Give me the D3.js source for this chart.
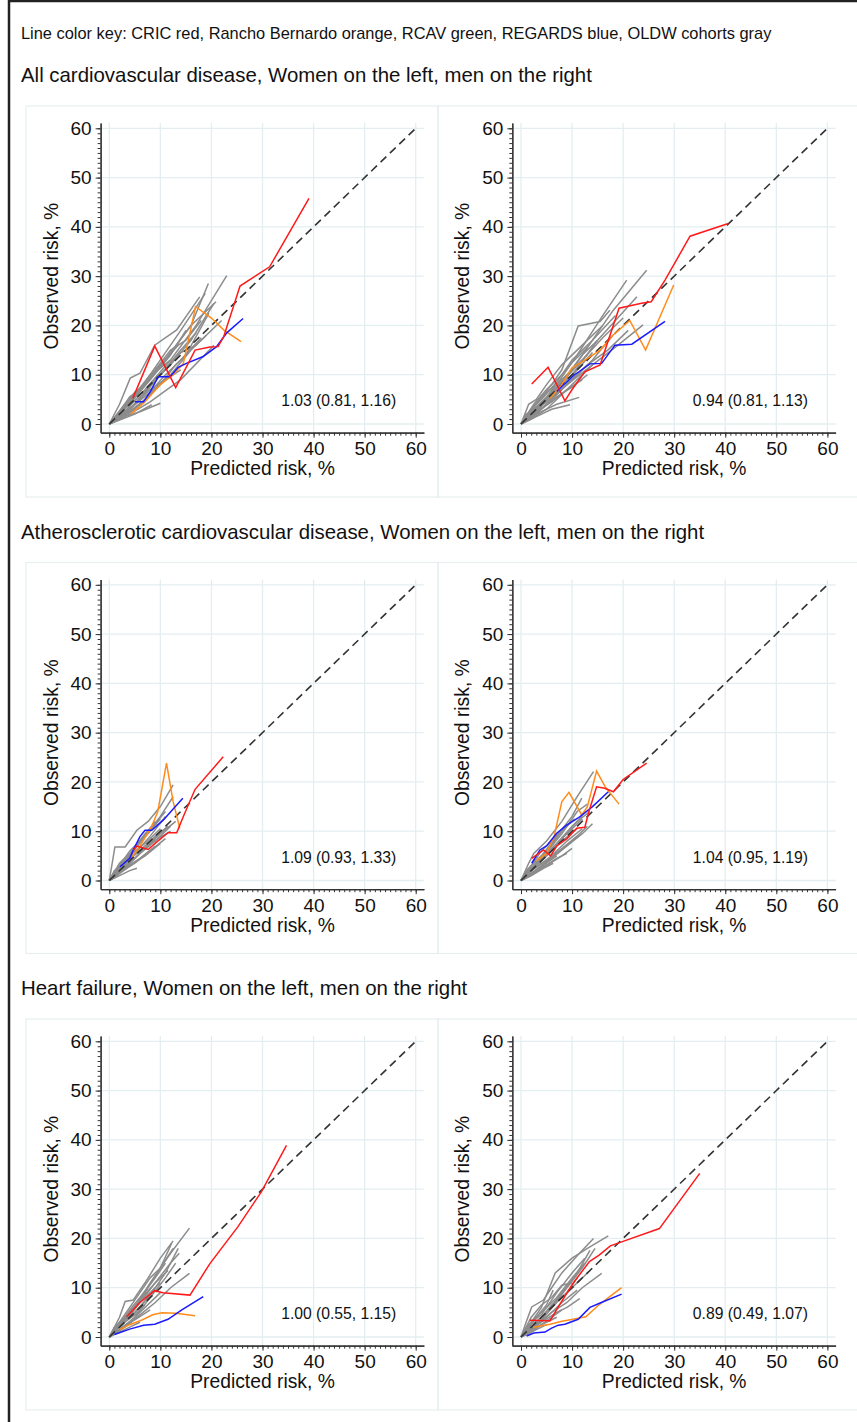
<!DOCTYPE html>
<html>
<head>
<meta charset="utf-8">
<script src="https://cdn.jsdelivr.net/npm/d3@7"></script>
<style>
body { margin: 0; background: #fff; }
svg text { font-family: "Liberation Sans", Arial, sans-serif; fill: #111; }
</style>
</head>
<body>
<script>
//calibration plots, observed vs predicted risk by cohort

//text
var keyText = "Line color key: CRIC red, Rancho Bernardo orange, RCAV green, REGARDS blue, OLDW cohorts gray";
var rowTitles = [
    "All cardiovascular disease, Women on the left, men on the right",
    "Atherosclerotic cardiovascular disease, Women on the left, men on the right",
    "Heart failure, Women on the left, men on the right"
];
var ratioLabels = ["1.03 (0.81, 1.16)", "0.94 (0.81, 1.13)", "1.09 (0.93, 1.33)",
                   "1.04 (0.95, 1.19)", "1.00 (0.55, 1.15)", "0.89 (0.49, 1.07)"];
var majorTicks = [0, 10, 20, 30, 40, 50, 60];
var xTitle = "Predicted risk, %",
    yTitle = "Observed risk, %";

//---- All CVD, women ----
var cvdWomenRed = [[4.6,5.2],[8.9,15.8],[13,7.4],[16.8,15],[19.7,15.6],[21.3,15.7],[22.4,17.7],[25.6,28],[31.4,31.9],[39.1,45.8]];
var cvdWomenOrange = [[4.2,2],[7,4.5],[10,8],[12.5,10],[14.5,12.3],[16.9,23.8],[20,21.5],[22.5,19],[25.8,16.7]];
var cvdWomenBlue = [[5,4.5],[6.7,4.5],[8,6.5],[9.6,9.6],[11.9,9.6],[13.5,11.5],[15.1,12.3],[18.4,13.7],[21,15.7],[23,18.5],[26.2,21.4]];
var cvdWomenGray = [
    [[0,0],[2,4],[4.1,9.3],[6,10.3],[8.9,16],[13.2,19.1],[17.7,25.8]],
    [[0,0],[3,3],[6,7],[10,13],[14,19],[18.8,26.5]],
    [[0,0],[3,2.5],[7,7],[12,13],[17,20],[23,30.1]],
    [[0,0],[2,1.5],[5,4],[8,8],[12,12],[16,17],[20.5,24.5]],
    [[0,0],[3,2],[6,5],[10,10],[14,15],[17,18.5]],
    [[0,0],[2,1],[5,3],[8,6],[12,10],[16,15],[19,18],[22,21]],
    [[0,0],[4,2],[8,4.5],[10,6],[14,9],[20.5,16]],
    [[0,0],[3,1.5],[6,2.5],[10,4.2]],
    [[0,0],[2,0.8],[5,2],[8.3,3.9]],
    [[0,0],[2,1.5],[4,3],[8,6.5],[11,10],[14,13],[18,17.5]],
    [[0,0],[3,3.5],[5,5.5],[8,9],[12,14],[15,19]],
    [[0,0],[4,4],[8,9],[12,14.5],[16,20],[20.9,24.8]],
    [[0,0],[2,2],[5,6],[9,11],[12,15],[15,17],[18,21]],
    [[0,0],[3,2],[6,4],[10,8],[13,12],[15,14],[19.5,22.5]],
    [[0,0],[1.5,1],[4,2.5],[7,5],[9,7.5],[12,10]],
    [[0,0],[2,2.5],[4,5.5],[6,7],[9,10.5],[12,13]],
    [[0,0],[1,1],[3,2.5],[5,4],[8,7],[14,11]],
    [[0,0],[2.5,3],[5,6.5],[7,8],[10,12],[13.5,16]],
    [[0,0],[3,4],[5,6],[8,10],[11,13],[16,20],[19.4,28.5]],
    [[0,0],[4,3],[7,6.5],[11,11],[14,14.5],[17,16],[19,18]]
];

//---- All CVD, men ----
var cvdMenRed = [[2.1,8.1],[5.3,11.5],[8.6,4.7],[10,7],[12.5,10.6],[15.5,12],[19.2,23.5],[23.6,24.5],[25.5,24.8],[28.2,29.2],[33.1,38.1],[40.6,40.7]];
var cvdMenOrange = [[5.7,5.2],[8,8],[9.9,11.3],[13.5,13.6],[15.5,15],[18,18],[21.3,21],[24.4,15],[29.9,28.2]];
var cvdMenBlue = [[7,6.6],[8.3,7.9],[10.5,10],[13.5,12.2],[15.8,12.3],[18.4,16],[21.7,16.2],[28.2,20.8]];
var cvdMenGray = [
    [[0,0],[3,4],[6,8],[8,11],[11.2,19.9],[15.5,20.8],[17.4,23.1]],
    [[0,0],[3,3],[7,8],[11,14],[16,22],[20.7,29.2]],
    [[0,0],[3,2.5],[7,7],[12,14],[18,23],[24.6,31.2]],
    [[0,0],[2,2],[6,6],[10,10],[15,17],[22.7,25.8]],
    [[0,0],[3,1.5],[6,3],[9.6,3.9]],
    [[0,0],[3,2],[7,4],[11.4,5.4]],
    [[0,0],[2,1.5],[5,4],[9,8],[14,12],[19,16],[23.9,20.1]],
    [[0,0],[1.5,4],[3,5],[5,8],[8,12],[12,16],[16,20]],
    [[0,0],[2,2.5],[5,5],[8,8.5],[12,13],[16,17.5],[20,21.5]],
    [[0,0],[3,2],[6,5],[10,9],[14,13],[18,18]],
    [[0,0],[2,1],[5,3],[8,6],[11,9],[14,12]],
    [[0,0],[1,2],[3,3],[6,6],[9,10],[12,13]],
    [[0,0],[2,3],[4,5],[7,8.5],[10,13],[14,17],[18.5,22]],
    [[0,0],[3,3.5],[6,6.5],[9,9.5],[12,14],[15,17]],
    [[0,0],[2,1.5],[4,3],[7,5.5],[10,7.5],[13,10]],
    [[0,0],[1,1.5],[3,3.5],[5,5],[8,7],[11,11],[14,14.5]],
    [[0,0],[2,3],[4,5.5],[7,8],[10,11],[13,14]],
    [[0,0],[3,2.5],[6,4.5],[9,7],[12,9]],
    [[0,0],[2.5,4],[5,7],[8,10],[10,12.5],[13,15.5]],
    [[0,0],[2,2],[5,4.5],[9,8],[13,12],[17,15],[21,19]]
];

//---- ASCVD, women ----
var ascvdWomenRed = [[4.7,6.2],[5.4,7],[7.6,6.3],[9.5,8],[11.5,9.7],[13.2,9.7],[14.5,13],[16.8,18.5],[22.3,25.1]];
var ascvdWomenOrange = [[4.5,4.8],[6,7],[8.3,11],[9.5,14],[11.2,23.8],[12.5,16],[13.8,10.6]];
var ascvdWomenBlue = [[2.1,2.8],[4,4.5],[4.7,6.2],[6,8.9],[7,10.2],[8.3,10.2],[10.6,12.3],[12.5,14.5],[14.4,16.7]];
var ascvdWomenGray = [
    [[0,0],[1.1,6.8],[3.1,6.8],[5.4,10.2],[7.6,12],[10,15],[12.5,19.4]],
    [[0,0],[2,2.5],[4,5],[7,9],[10,13],[12.5,17]],
    [[0,0],[2,2],[5,5.5],[8,9],[11,13]],
    [[0,0],[3,2.5],[6,5.5],[9,8],[12,11]],
    [[0,0],[2,1],[4,2],[5.4,2.5]],
    [[0,0],[2,3],[4,6],[6,8],[9,12]],
    [[0,0],[1,1.5],[3,4],[5,6.5],[8,10],[10,12.5]],
    [[0,0],[2,1.5],[5,3.5],[8,6],[11,8.5]],
    [[0,0],[1.5,2],[3,3.5],[6,6],[9,9],[11.5,11]],
    [[0,0],[2,2],[4,3.5],[7,6.5],[10,9.5],[13,12]],
    [[0,0],[1,1],[3,2.5],[6,4.5],[9,7]],
    [[0,0],[2,3.5],[4,5.5],[7,9.5],[9,11.5],[11,14]],
    [[0,0],[1.5,1],[4,3],[7,5],[10,7.5]],
    [[0,0],[2,2.5],[5,6],[7,7.5],[10,10.5]],
    [[0,0],[3,3],[5,4.5],[8,7.5],[12,10]],
    [[0,0],[1,2],[2.5,3],[4.5,5],[7,7],[9.5,9]]
];

//---- ASCVD, men ----
var ascvdMenRed = [[2.1,4.5],[4.4,6.2],[5.8,5],[7,7],[9,8.5],[10.9,10.6],[12.5,10.8],[13.3,14],[14.8,19],[16.4,18.7],[18.1,18],[20,20.5],[24.6,23.8]];
var ascvdMenOrange = [[3,4],[5,5.5],[6.5,9],[8,16],[9.4,17.9],[11.9,13.3],[13,15],[14.8,22.2],[16.5,19],[19.2,15.5]];
var ascvdMenBlue = [[2.1,3.5],[3.7,6.2],[5,7],[7,9.6],[9,11.3],[11.5,12.9],[14,15],[17.1,18]];
var ascvdMenGray = [
    [[0,0],[1.5,3.5],[2.5,5.5],[5,8],[8,12],[11,17],[14.2,22.1]],
    [[0,0],[2,3],[4,5],[7,9],[10,13],[11.9,16.7]],
    [[0,0],[2,2],[5,5],[8,8.5],[11,12],[13.5,14]],
    [[0,0],[3,2],[6,4.5],[9,7],[12,9.5],[14,11.5]],
    [[0,0],[2,1],[4.5,2.5],[6.3,3.5]],
    [[0,0],[2,2.5],[4,4.5],[7,7.5],[10,11],[12,13]],
    [[0,0],[1.5,1.5],[3,3.5],[5,5],[8,8],[11,10.5]],
    [[0,0],[2,1.5],[4,3],[7,5.5],[10,8],[13,11]],
    [[0,0],[1,2],[3,4],[5,6],[8,10],[10.5,12.5]],
    [[0,0],[2,2],[5,4],[8,6.5],[11,9]],
    [[0,0],[1,1.5],[3,3],[6,6.5],[9,9.5],[12,12.5]],
    [[0,0],[2,3],[4,6],[6,8],[9,11.5]],
    [[0,0],[2,1],[5,3],[8,5],[10,6.5]],
    [[0,0],[3,3.5],[6,7],[8,9.5],[11,14],[13,15.5]],
    [[0,0],[1.5,1],[4,2.5],[7,4.5],[9,5.5]],
    [[0,0],[2,2.5],[4,3.5],[6,5],[9,8],[12,10.5]],
    [[0,0],[1,1],[3,2],[5,3.5],[7,5]]
];

//---- Heart failure, women ----
var hfWomenRed = [[3.4,4.1],[6,7],[8.9,9.4],[10.5,9],[15.8,8.5],[19.7,14.9],[25.2,22.4],[29.8,29.5],[34.7,38.9]];
var hfWomenOrange = [[2,1.5],[4,2.5],[6.5,3.5],[8.5,4.5],[10.3,4.9],[13,4.8],[16.8,4.3]];
var hfWomenBlue = [[1,0.5],[2.1,0.9],[4,1.6],[6.7,2.4],[8.9,2.6],[11.5,3.6],[14.2,5.5],[18.4,8.2]];
var hfWomenGray = [
    [[0,0],[2,4],[3.1,7.2],[4.7,7.5],[7,11],[10,16],[12.5,19.5]],
    [[0,0],[2,2.5],[5,6],[8,11],[12,17],[15.7,22.1]],
    [[0,0],[2,2],[4,4.5],[7,9],[10,14],[12.2,19]],
    [[0,0],[3,3],[6,7],[9,11],[12,15],[13.7,17]],
    [[0,0],[3,2],[6,4.5],[9,7],[12,10],[15.7,12.9]],
    [[0,0],[2,1.5],[5,4],[8,8],[11,12],[13,15]],
    [[0,0],[1,1],[3,3],[5,5],[8,8.5],[11,13],[13.5,18]],
    [[0,0],[2,1],[4,2],[6,3]],
    [[0,0],[1.5,2],[4,4],[6,6],[9,10]],
    [[0,0],[2,2.5],[4,5.5],[6,8],[9,12],[11,15]],
    [[0,0],[2,1.5],[4,3],[7,6],[10,9]],
    [[0,0],[1,1.5],[3,3.5],[5,6],[7,8],[10,11]],
    [[0,0],[1.5,1],[3,2],[5,3.5],[8,5.5]],
    [[0,0],[2,3],[4,6],[6,9],[8,12],[10,14],[12.5,18]],
    [[0,0],[2,2],[3,3],[5,4.5],[7,6.5]],
    [[0,0],[1,2],[3,4],[6,7.5],[9,11],[11.5,13.5]]
];

//---- Heart failure, men ----
var hfMenRed = [[1.7,3.4],[5.7,3.3],[7.3,6.1],[10.2,10.9],[13.4,15.3],[15.3,16.6],[17.5,18.5],[19.7,19.3],[27.1,22],[35,33.2]];
var hfMenOrange = [[2.4,2],[5.7,2.6],[8,3.2],[10.2,3.6],[12.7,4.1],[15,6.3],[17.5,8.3],[19.7,10]];
var hfMenBlue = [[1.1,0.2],[2.5,0.8],[4.7,1],[6,1.8],[7.3,2.4],[8.6,2.6],[11.2,3.6],[13.5,6],[15.5,6.9],[19.7,8.7]];
var hfMenGray = [
    [[0,0],[1,3],[2.1,6.1],[4.4,7.5],[6,10],[8,13],[11,16.5],[14.2,20]],
    [[0,0],[2,3],[4,6],[6.7,13],[10,16],[13,18],[17.1,20.5]],
    [[0,0],[2,2],[5,5],[8,9],[11,13],[13.5,17.6]],
    [[0,0],[3,2.5],[6,5],[9,7],[12,10],[15.8,12.9]],
    [[0,0],[2,1.5],[4,3],[7,5],[9,6],[11.5,7.8]],
    [[0,0],[1.5,2],[3,4],[5,6.5],[6.3,9.5]],
    [[0,0],[1,1],[3,3],[6,6],[9,10],[12,14],[14.5,18]],
    [[0,0],[2,1],[4,2.5],[6,4],[8,5.5]],
    [[0,0],[1.5,2.5],[4,5],[7,8],[10,12],[12.5,15]],
    [[0,0],[2,2],[4,3.5],[7,7],[10,10],[13,13]],
    [[0,0],[1,1.5],[3,2.5],[5,4],[8,7],[11,9.5]],
    [[0,0],[2,3],[4,4.5],[7,9],[10,13],[12.5,16]],
    [[0,0],[1.5,1],[3,2],[5,3],[7,4]],
    [[0,0],[2,2.5],[4,4],[6,6.5],[9,9],[11,12]],
    [[0,0],[1,0.5],[3,1.5],[5,2.5]],
    [[0,0],[2,4],[4,6.5],[6,8],[8,10.5],[10,11]]
];

//panel table built from the arrays above
var panels = [
    {gray: cvdWomenGray, orange: cvdWomenOrange, blue: cvdWomenBlue, red: cvdWomenRed},
    {gray: cvdMenGray, orange: cvdMenOrange, blue: cvdMenBlue, red: cvdMenRed},
    {gray: ascvdWomenGray, orange: ascvdWomenOrange, blue: ascvdWomenBlue, red: ascvdWomenRed},
    {gray: ascvdMenGray, orange: ascvdMenOrange, blue: ascvdMenBlue, red: ascvdMenRed},
    {gray: hfWomenGray, orange: hfWomenOrange, blue: hfWomenBlue, red: hfWomenRed},
    {gray: hfMenGray, orange: hfMenOrange, blue: hfMenBlue, red: hfMenRed}
];

var colors = {gray: "#8c8c8c", orange: "#ff8c1a", blue: "#1a1aff", red: "#ff1a1a"};

var width = 857,
    height = 1422,
    rowStep = 456.5,
    colX = [109.3, 521],    //pixel of x = 0 in each column
    baseY = 424,            //pixel of y = 0 in row one
    pxX = 306.4 / 60,
    pxY = 295.7 / 60,
    tickFont = "19px",
    titleFont = "19.3px";

var svg = d3.select("body")
    .append("svg")
    .attr("width", width)
    .attr("height", height);

svg.append("rect")
    .attr("width", width)
    .attr("height", height)
    .attr("fill", "#fff");

//dark frame on left and top
svg.append("line")
    .attr("x1", 9).attr("x2", 9)
    .attr("y1", 0).attr("y2", height)
    .attr("stroke", "#222").attr("stroke-width", 2.5);
svg.append("line")
    .attr("x1", 8).attr("x2", width)
    .attr("y1", 1).attr("y2", 1)
    .attr("stroke", "#222").attr("stroke-width", 2.5);

svg.append("text")
    .attr("x", 21)
    .attr("y", 39)
    .style("font-size", "16.4px")
    .text(keyText);

rowTitles.forEach(function(t, r){
    svg.append("text")
        .attr("x", 21)
        .attr("y", 82 + r * rowStep)
        .style("font-size", "20.4px")
        .text(t);
});

panels.forEach(function(p, i){
    drawPanel(p, i % 2, Math.floor(i / 2), ratioLabels[i]);
});

function drawPanel(p, col, row, label){
    var x0 = colX[col],
        y0 = baseY + row * rowStep;

    //panel frame
    svg.append("rect")
        .attr("x", col == 0 ? 26 : 438)
        .attr("y", 106 + row * rowStep)
        .attr("width", col == 0 ? 412 : 420)
        .attr("height", 391)
        .attr("fill", "none")
        .attr("stroke", "#e6eef0")
        .attr("stroke-width", 1.2);

    var x = d3.scaleLinear()
        .domain([-1.7, 61.6])
        .range([x0 - 1.7 * pxX, x0 + 61.6 * pxX]);
    var y = d3.scaleLinear()
        .domain([-1.76, 61.1])
        .range([y0 + 1.76 * pxY, y0 - 61.1 * pxY]);

    var g = svg.append("g");

    //grid
    g.selectAll(".vgrid")
        .data(majorTicks)
        .enter()
        .append("line")
        .attr("x1", function(d){ return x(d); })
        .attr("x2", function(d){ return x(d); })
        .attr("y1", y.range()[0])
        .attr("y2", y.range()[1])
        .attr("stroke", "#e4eef1")
        .attr("stroke-width", 1.3);
    g.selectAll(".hgrid")
        .data(majorTicks)
        .enter()
        .append("line")
        .attr("y1", function(d){ return y(d); })
        .attr("y2", function(d){ return y(d); })
        .attr("x1", x.range()[0])
        .attr("x2", x.range()[1])
        .attr("stroke", "#e4eef1")
        .attr("stroke-width", 1.3);

    //minor ticks every 1 unit
    var minor = d3.range(0, 61);
    g.append("g")
        .attr("transform", "translate(0," + y.range()[0] + ")")
        .call(d3.axisBottom(x).tickValues(minor).tickSize(3).tickSizeOuter(0).tickFormat(""))
        .call(styleAxis);
    g.append("g")
        .attr("transform", "translate(" + x.range()[0] + ",0)")
        .call(d3.axisLeft(y).tickValues(minor).tickSize(3).tickSizeOuter(0).tickFormat(""))
        .call(styleAxis);

    //major ticks with labels
    g.append("g")
        .attr("transform", "translate(0," + y.range()[0] + ")")
        .call(d3.axisBottom(x).tickValues(majorTicks).tickSize(5).tickPadding(4).tickSizeOuter(0))
        .call(styleAxis);
    g.append("g")
        .attr("transform", "translate(" + x.range()[0] + ",0)")
        .call(d3.axisLeft(y).tickValues(majorTicks).tickSize(5).tickPadding(4).tickSizeOuter(0))
        .call(styleAxis);

    //axis titles
    g.append("text")
        .attr("x", x(30))
        .attr("y", y0 + 51)
        .attr("text-anchor", "middle")
        .style("font-size", titleFont)
        .text(xTitle);
    g.append("text")
        .attr("transform", "translate(" + (x0 - 51.8) + "," + y(30) + ") rotate(-90)")
        .attr("text-anchor", "middle")
        .style("font-size", titleFont)
        .text(yTitle);

    var line = d3.line()
        .x(function(d){ return x(d[0]); })
        .y(function(d){ return y(d[1]); });

    //OLDW cohorts
    g.selectAll(".gray")
        .data(p.gray)
        .enter()
        .append("path")
        .attr("d", line)
        .attr("fill", "none")
        .attr("stroke", colors.gray)
        .attr("stroke-width", 1.5);

    //reference diagonal
    g.append("path")
        .attr("d", line([[0, 0], [60, 60]]))
        .attr("fill", "none")
        .attr("stroke", "#333")
        .attr("stroke-width", 1.6)
        .attr("stroke-dasharray", "8,5");

    ["orange", "blue", "red"].forEach(function(k){
        g.append("path")
            .attr("d", line(p[k]))
            .attr("fill", "none")
            .attr("stroke", colors[k])
            .attr("stroke-width", 1.5);
    });

    g.append("text")
        .attr("x", x(56.2))
        .attr("y", y(4.7))
        .attr("dy", "0.35em")
        .attr("text-anchor", "end")
        .style("font-size", "15.7px")
        .text(label);
}

function styleAxis(sel){
    sel.select(".domain").attr("stroke", "#333").attr("stroke-width", 1.2);
    sel.selectAll(".tick line").attr("stroke", "#333");
    sel.selectAll(".tick text")
        .style("font-size", tickFont)
        .style("font-family", "'Liberation Sans', Arial, sans-serif")
        .attr("fill", "#111");
}
</script>
</body>
</html>
